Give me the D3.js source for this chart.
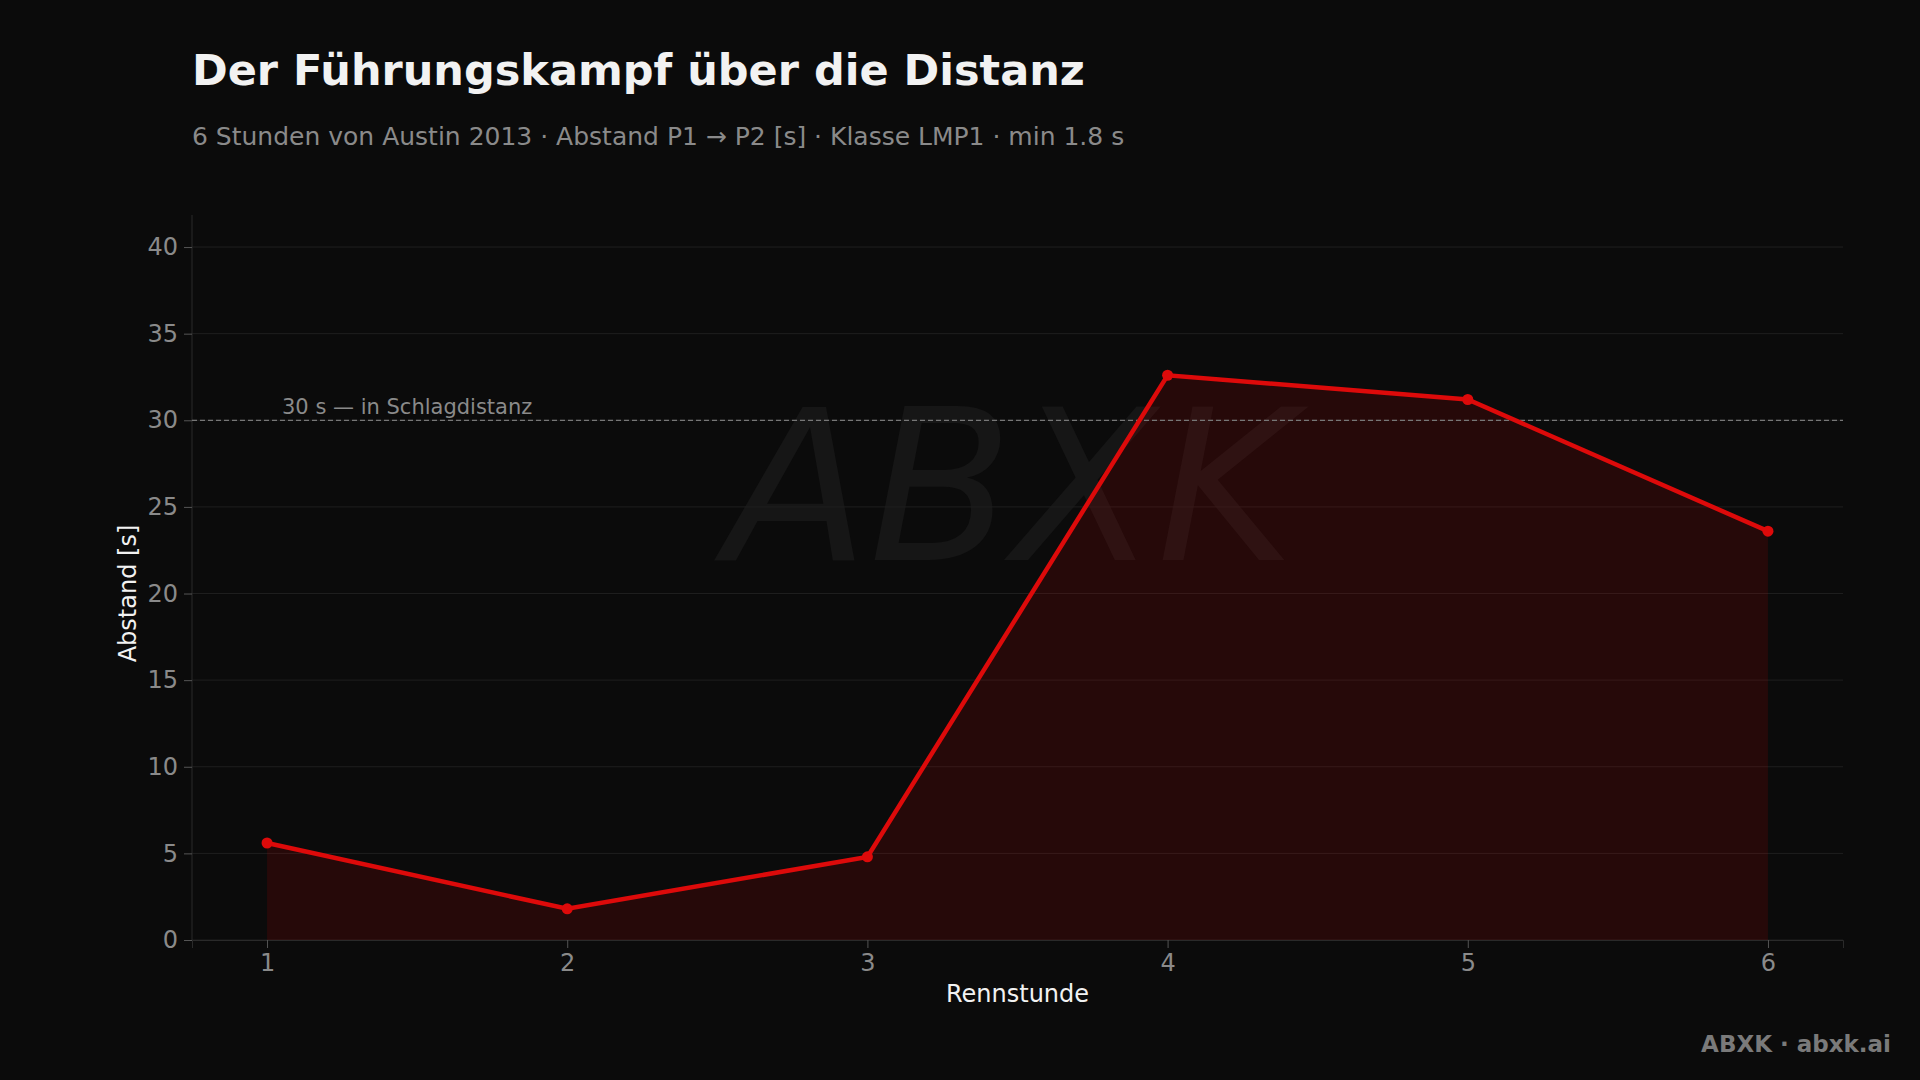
<!DOCTYPE html>
<head>
  <meta charset="utf-8">
  <title>Führungskampf</title>
  <script src="https://d3js.org/d3.v7.min.js"></script>
  <style>
    body { margin: 0; background: #0b0b0b; }
    text { font-family: "DejaVu Sans", sans-serif; }
  </style>
</head>
<body>
  <div id="chart"></div>
  <script>
    // Daten
    var hours = [1, 2, 3, 4, 5, 6];
    var gaps = [5.6, 1.8, 4.8, 32.6, 31.2, 23.6];
    var yTicks = [0, 5, 10, 15, 20, 25, 30, 35, 40];
    var refValue = 30;
    var refLabel = '30 s — in Schlagdistanz';

    var width = 1920, height = 1080;
    var mLeft = 192, mRight = 1843, mTop = 215, mBottom = 940;

    var svg = d3.select('#chart').append('svg')
      .attr('width', width).attr('height', height)
      .style('background', '#0b0b0b');

    var x = d3.scaleLinear().domain([0.75, 6.25]).range([mLeft, mRight]);
    var y = d3.scaleLinear().domain([0, 41.85]).range([mBottom, mTop]);

    // Wasserzeichen
    svg.append('text')
      .attr('x', 1010).attr('y', 560)
      .attr('text-anchor', 'middle')
      .attr('font-size', 210).attr('font-style', 'italic')
      .attr('fill', '#161616')
      .text('ABXK');

    // Gitter
    svg.append('g').selectAll('line').data(yTicks).enter().append('line')
      .attr('x1', mLeft).attr('x2', mRight)
      .attr('y1', function (d) { return y(d); })
      .attr('y2', function (d) { return y(d); })
      .attr('stroke', '#1f1f1f').attr('stroke-width', 1);

    // Achsen
    var yAxis = svg.append('g').attr('transform', 'translate(' + mLeft + ',0)')
      .call(d3.axisLeft(y).tickValues(yTicks).tickFormat(d3.format('d')).tickSize(8).tickPadding(6));
    var xAxis = svg.append('g').attr('transform', 'translate(0,' + mBottom + ')')
      .call(d3.axisBottom(x).tickValues(hours).tickFormat(d3.format('d')).tickSize(8).tickPadding(6));
    [yAxis, xAxis].forEach(function (a) {
      a.select('.domain').attr('stroke', '#2a2a2a');
      a.selectAll('.tick line').attr('stroke', '#555');
      a.selectAll('.tick text').attr('fill', '#8a8a8a').attr('font-size', 24)
        .style('font-family', 'DejaVu Sans');
    });
    yAxis.select('.domain').attr('d', 'M0,' + mTop + 'V' + mBottom);

    // Fläche
    svg.append('path').datum(gaps)
      .attr('d', d3.area()
        .x(function (d, i) { return x(hours[i]); })
        .y0(y(0)).y1(function (d) { return y(d); }))
      .attr('fill', '#d00000').attr('fill-opacity', 0.14);

    // Referenzlinie
    svg.append('line')
      .attr('x1', mLeft).attr('x2', mRight)
      .attr('y1', y(refValue)).attr('y2', y(refValue))
      .attr('stroke', '#777').attr('stroke-width', 1.3)
      .attr('stroke-dasharray', '5,3');
    svg.append('text')
      .attr('x', 282).attr('y', y(refValue) - 6)
      .attr('fill', '#8a8a8a').attr('font-size', 21)
      .text(refLabel);

    // Linie
    svg.append('path').datum(gaps)
      .attr('d', d3.line()
        .x(function (d, i) { return x(hours[i]); })
        .y(function (d) { return y(d); }))
      .attr('fill', 'none').attr('stroke', '#dd0a0a').attr('stroke-width', 4.5);

    svg.selectAll('circle.pt').data(gaps).enter().append('circle')
      .attr('cx', function (d, i) { return x(hours[i]); })
      .attr('cy', function (d) { return y(d); })
      .attr('r', 5.5).attr('fill', '#dd0a0a');

    // Texte
    svg.append('text').attr('x', 192).attr('y', 85)
      .attr('fill', '#f2f2f2').attr('font-size', 43).attr('font-weight', 'bold')
      .text('Der Führungskampf über die Distanz');
    svg.append('text').attr('x', 192).attr('y', 145)
      .attr('fill', '#8a8a8a').attr('font-size', 25)
      .text('6 Stunden von Austin 2013 · Abstand P1 → P2 [s] · Klasse LMP1 · min 1.8 s');
    svg.append('text').attr('x', (mLeft + mRight) / 2).attr('y', 1002)
      .attr('text-anchor', 'middle').attr('fill', '#f2f2f2').attr('font-size', 24)
      .text('Rennstunde');
    svg.append('text')
      .attr('transform', 'translate(136,' + y(20) + ') rotate(-90)')
      .attr('text-anchor', 'middle').attr('fill', '#f2f2f2').attr('font-size', 24)
      .text('Abstand [s]');
    svg.append('text').attr('x', 1891).attr('y', 1052)
      .attr('text-anchor', 'end').attr('fill', '#7a7a7a').attr('font-size', 23)
      .attr('font-weight', 'bold')
      .text('ABXK · abxk.ai');
  </script>
</body>
